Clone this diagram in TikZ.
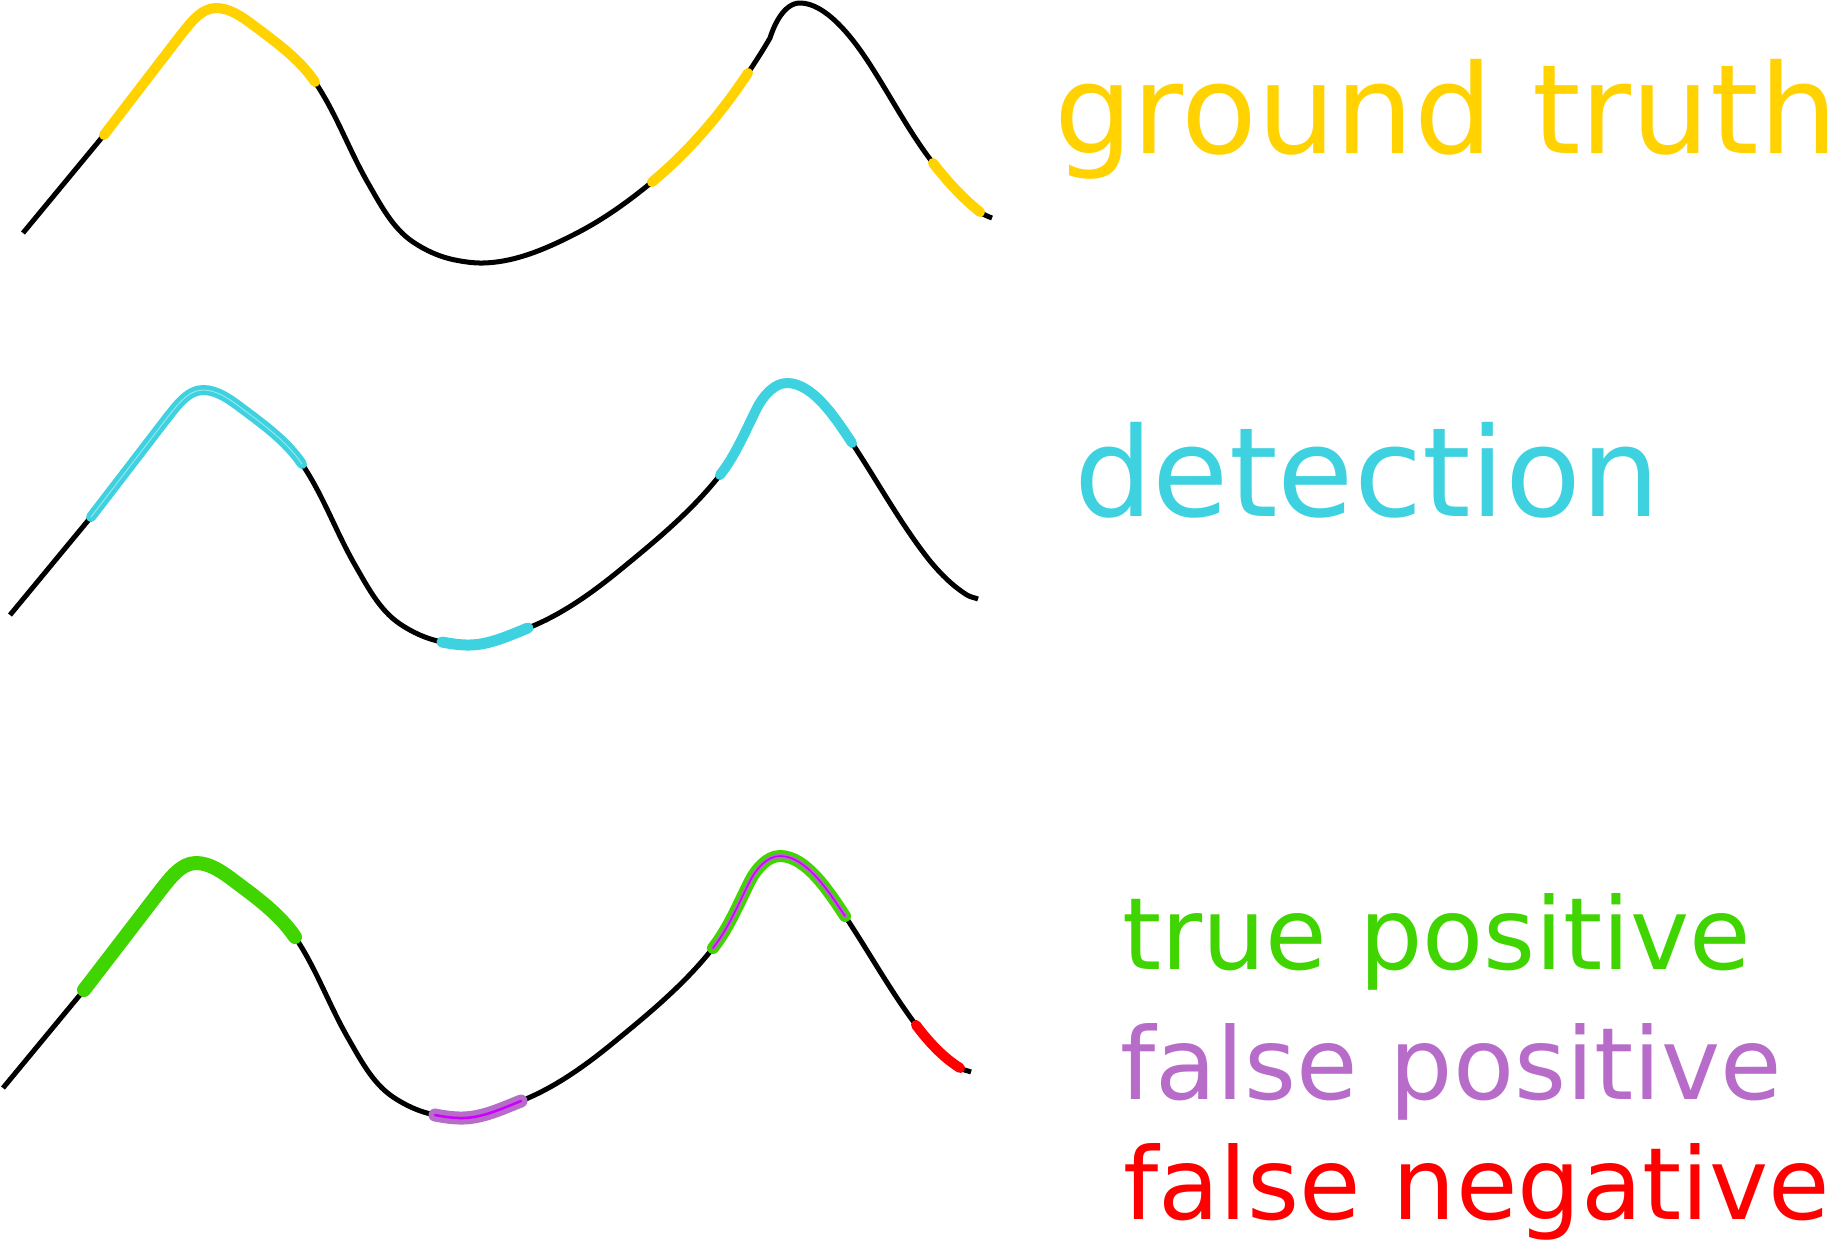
\documentclass[tikz,border=0pt]{standalone}
\usepackage{fontspec}
\setmainfont{DejaVu Sans}
\definecolor{gtc}{HTML}{FFD200}
\definecolor{detc}{HTML}{3ED1DF}
\definecolor{tpc}{HTML}{40D400}
\definecolor{fpc}{HTML}{B66CC8}
\definecolor{fpin}{HTML}{CC00FF}
\definecolor{fnc}{HTML}{FF0000}
\tikzset{
  base/.style={draw=black, line width=5bp, line join=round},
  seg/.style={line width=#1, line cap=round, line join=round},
  bigtext/.style={anchor=base west, inner sep=0pt, font=\fontsize{124bp}{130bp}\selectfont},
  smalltext/.style={anchor=base west, inner sep=0pt, font=\fontsize{100bp}{110bp}\selectfont}
}
% ---- pieces of the base curve (detection curve coordinates) ----
\newcommand\pA{(10,615) -- (91,517)}
\newcommand\pB{(91,517) -- (167,418) .. controls (176.5,406.1) and (187.8,390) .. (203,390) .. controls (216.6,390) and (229.1,398.8) .. (240,407) .. controls (262.5,423.9) and (286.3,440.7) .. (302,464)}
\newcommand\pC{(302,464) .. controls (323.3,495.5) and (336,532) .. (355,565) .. controls (367.4,586.5) and (379.5,610.2) .. (400,624) .. controls (412.6,632.5) and (427.1,639.1) .. (442,642)}
\newcommand\pDa{(442,642) .. controls (451.2,643.8) and (460.6,645.2) .. (470,645)}
\newcommand\pD{(442,642) .. controls (451.2,643.8) and (460.6,645.2) .. (470,645) .. controls (490.1,644.6) and (509.3,635.4) .. (528,628)}
\newcommand\pE{(528,628) .. controls (561.8,614.6) and (592,592.9) .. (620,570) .. controls (655.4,541) and (691.5,511.3) .. (720,475)}
\newcommand\pF{(720,475) .. controls (735.8,454.9) and (745.5,430.7) .. (757,408) .. controls (762.9,396.4) and (774,383) .. (787,383) .. controls (813,383) and (835.8,418.5) .. (852,443)}
\newcommand\pG{(852,443) .. controls (875.9,479) and (897,517.3) .. (923,552)}
\newcommand\pH{(923,552) .. controls (935.3,568.4) and (949.6,584.1) .. (967,595)}
\newcommand\pI{(967,595) .. controls (970.3,597.1) and (974.4,597.6) .. (978,599)}
\newcommand\fullcurve{\draw[base] \pA \pB \pC \pD \pE \pF \pG \pH \pI;}
\begin{document}
\begin{tikzpicture}[x=1bp,y=-1bp]
\useasboundingbox (0,0) rectangle (1835,1240);

% ---------- curve 1: ground truth ----------
\begin{scope}[shift={(13,-382)}]
  \draw[base] \pA \pB \pC \pDa;
\end{scope}
\draw[base] (483,263) .. controls (515.9,262.3) and (547.7,248.1) .. (577,233)
  .. controls (603.9,219.1) and (628.7,201.3) .. (652,182)
  .. controls (689.3,151) and (721.4,113.2) .. (748,73)
  .. controls (755.6,61.5) and (763.1,50) .. (770,38)
  .. controls (774.6,23.4) and (784.6,3) .. (800,3)
  .. controls (825,3) and (850.9,35.7) .. (867,60)
  .. controls (889.4,93.9) and (908.1,130.8) .. (933,163)
  .. controls (946.8,180.9) and (962.4,198) .. (980,212)
  .. controls (983.5,214.8) and (987.8,216.3) .. (992,218);
\begin{scope}[shift={(13,-382)}]
  \draw[seg=10bp, gtc] \pB;
\end{scope}
\draw[seg=10bp, gtc] (652,182) .. controls (689.3,151) and (721.4,113.2) .. (748,73);
\draw[seg=10bp, gtc] (933,163) .. controls (946.8,180.9) and (962.4,198) .. (980,212);

% ---------- curve 2: detection ----------
\fullcurve
\draw[seg=10bp, detc] \pB;
\draw[seg=1bp, detc!55!white] \pB;
\draw[seg=11bp, detc] \pD;
\draw[seg=10bp, detc] \pF;

% ---------- curve 3: evaluation ----------
\begin{scope}[shift={(-7,473)}]
  \fullcurve
  \draw[seg=14bp, tpc] \pB;
  \draw[seg=13bp, fpc] \pD;
  \draw[seg=2.5bp, fpin] \pD;
  \draw[seg=12bp, tpc] \pF;
  \draw[seg=4.5bp, fpc] \pF;
  \draw[seg=1.6bp, fpin] \pF;
  \draw[seg=10bp, fnc] \pH;
\end{scope}

% ---------- labels ----------
\node[bigtext, text=gtc] (gt) at (1054,153) {ground truth\kern-0.08em};
\node[bigtext, text=detc] (det) at (1074,516) {detection};
\node[smalltext, text=tpc] (tp) at (1122,969) {true positive};
\node[smalltext, text=fpc] (fp) at (1120,1099) {false positive};
\node[smalltext, text=fnc] (fn) at (1123,1219) {false negative};
\end{tikzpicture}
\end{document}
